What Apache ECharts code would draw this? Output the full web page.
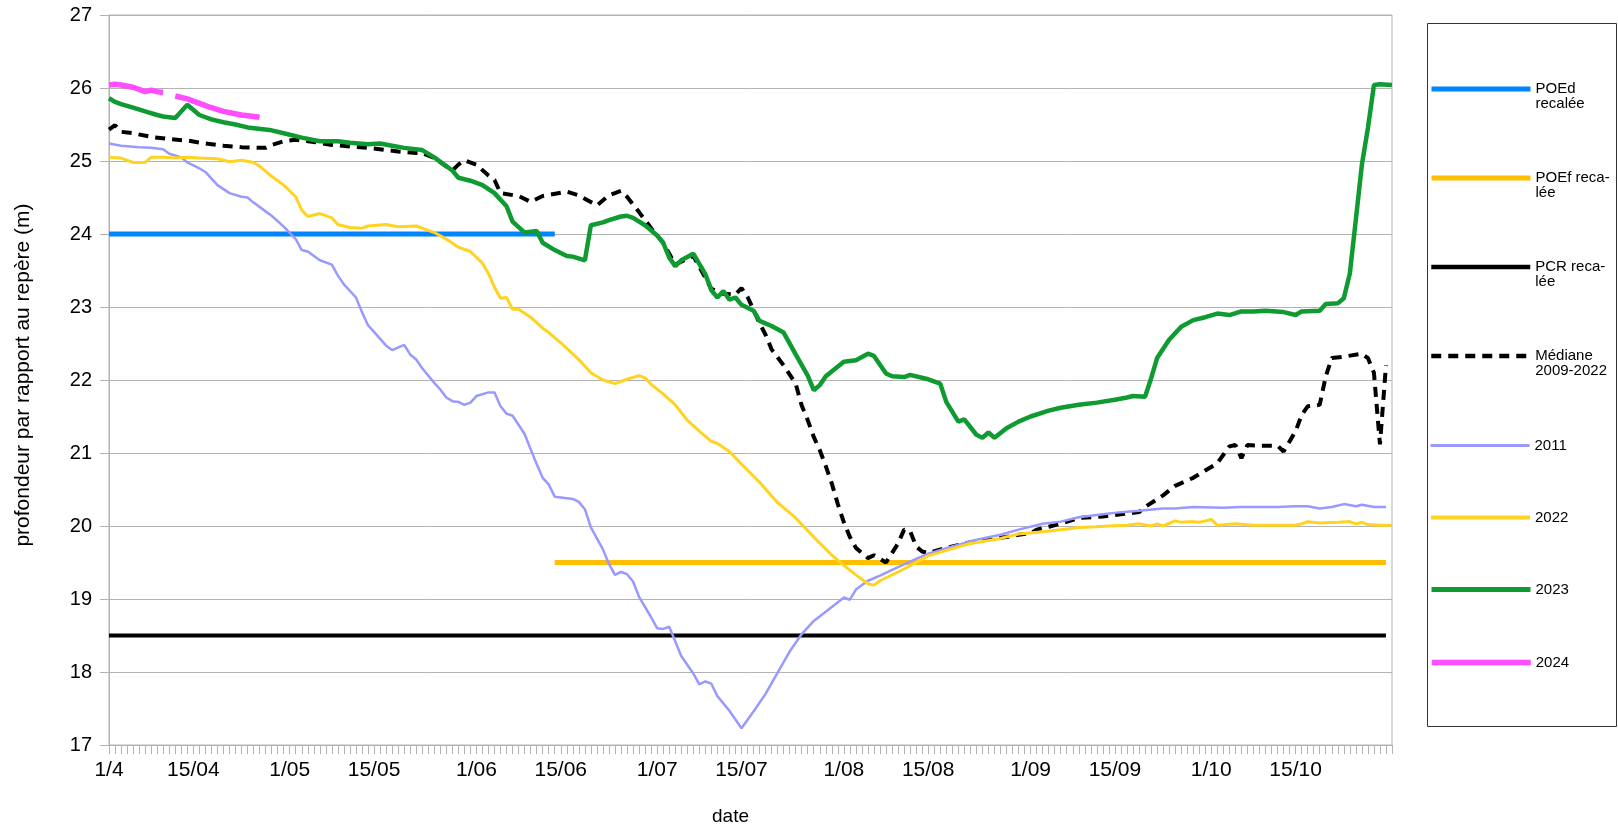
<!DOCTYPE html>
<html>
<head>
<meta charset="utf-8">
<title>profondeur</title>
<script src="https://cdn.jsdelivr.net/npm/echarts/dist/echarts.min.js"></script>
<style>
  html, body { margin: 0; padding: 0; background: #fff; }
  #chart { width: 1618px; height: 826px; }
</style>
</head>
<body>
<div id="chart"></div>
<script>
// jours comptés depuis le 1er avril (0 = 1/4, 213 = 31/10)
var tickDays = [0, 14, 30, 44, 61, 75, 91, 105, 122, 136, 153, 167, 183, 197];
var tickLabels = ['1/4', '15/04', '1/05', '15/05', '1/06', '15/06', '1/07', '15/07', '1/08', '15/08', '1/09', '15/09', '1/10', '15/10'];

var seriesNames = ['POEd recalée', 'POEf recalée', 'PCR recalée', 'Médiane 2009-2022', '2011', '2022', '2023', '2024'];
var legendText = ['POEd\nrecalée', 'POEf reca-\nlée', 'PCR reca-\nlée', 'Médiane\n2009-2022', '2011', '2022', '2023', '2024'];

var poed = [[0, 24], [74, 24]];
var poef = [[74, 19.5], [212, 19.5]];
var pcr = [[0, 18.5], [212, 18.5]];

var mediane = [[0, 25.43], [1, 25.49], [2, 25.40], [4, 25.38], [7, 25.33], [10, 25.30], [13, 25.28], [16, 25.24],
  [19, 25.21], [22, 25.19], [24, 25.18], [26, 25.18], [27, 25.22], [29, 25.27], [31, 25.29], [34, 25.26],
  [37, 25.22], [40, 25.20], [43, 25.18], [46, 25.15], [48, 25.13], [51, 25.11], [52, 25.11], [54, 25.04],
  [57, 24.87], [58, 24.95], [59, 25.01], [61, 24.95], [63, 24.80], [64, 24.74], [65, 24.56], [68, 24.52],
  [70, 24.44], [72, 24.52], [76, 24.58], [78, 24.53], [81, 24.39], [83, 24.53], [85, 24.59], [86, 24.51],
  [88, 24.30], [90, 24.08], [92, 23.88], [94, 23.58], [97, 23.70], [100, 23.25], [102, 23.18], [104, 23.17],
  [105, 23.26], [106, 23.14], [108, 22.78], [109, 22.62], [110, 22.42], [112, 22.20], [114, 21.95], [115, 21.65],
  [116, 21.45], [117, 21.22], [118, 21.04], [119, 20.82], [120, 20.58], [121, 20.30], [122, 20.05], [123, 19.85],
  [124, 19.70], [126, 19.56], [127, 19.60], [129, 19.50], [131, 19.76], [132, 19.95], [133, 19.93], [134, 19.72],
  [135, 19.65], [136, 19.63], [139, 19.70], [142, 19.76], [146, 19.82], [149, 19.85], [151, 19.88], [153, 19.90],
  [154, 19.95], [156, 19.99], [158, 20.03], [161, 20.11], [165, 20.13], [168, 20.16], [171, 20.19], [172, 20.26],
  [175, 20.42], [177, 20.55], [180, 20.66], [182, 20.76], [184, 20.86], [186, 21.09], [187, 21.11], [188, 20.93],
  [189, 21.11], [191, 21.10], [194, 21.10], [195, 21.02], [197, 21.30], [198, 21.52], [199, 21.64], [201, 21.66],
  [202, 22.05], [203, 22.30], [205, 22.32], [208, 22.36], [209, 22.30], [210, 22.10], [211, 21.12], [212, 22.20]];

var y2011 = [[0, 25.24], [2, 25.21], [5, 25.19], [7, 25.18], [9, 25.16], [10, 25.10], [12, 25.05], [13, 24.98],
  [15, 24.90], [16, 24.85], [18, 24.67], [20, 24.56], [22, 24.51], [23, 24.50], [24, 24.43], [26, 24.31],
  [27, 24.25], [29, 24.10], [31, 23.93], [32, 23.78], [33, 23.76], [35, 23.64], [37, 23.58], [38, 23.43],
  [39, 23.31], [41, 23.13], [42, 22.93], [43, 22.75], [44, 22.66], [46, 22.47], [47, 22.41], [49, 22.48],
  [50, 22.35], [51, 22.28], [52, 22.16], [54, 21.96], [55, 21.87], [56, 21.76], [57, 21.71], [58, 21.70],
  [59, 21.66], [60, 21.69], [61, 21.78], [63, 21.83], [64, 21.83], [65, 21.64], [66, 21.54], [67, 21.51],
  [69, 21.26], [70, 21.05], [71, 20.85], [72, 20.66], [73, 20.57], [74, 20.40], [75, 20.39], [77, 20.37],
  [78, 20.33], [79, 20.23], [80, 19.98], [82, 19.68], [83, 19.48], [84, 19.33], [85, 19.37], [86, 19.34],
  [87, 19.24], [88, 19.03], [90, 18.75], [91, 18.60], [92, 18.59], [93, 18.62], [94, 18.42], [95, 18.22],
  [97, 17.98], [98, 17.83], [99, 17.87], [100, 17.84], [101, 17.67], [103, 17.47], [105, 17.23], [107, 17.46],
  [109, 17.70], [111, 17.99], [113, 18.28], [115, 18.52], [117, 18.70], [120, 18.89], [122, 19.02], [123, 18.99],
  [124, 19.13], [126, 19.25], [128, 19.32], [130, 19.40], [134, 19.55], [136, 19.62], [140, 19.72], [143, 19.79],
  [145, 19.83], [148, 19.88], [151, 19.95], [155, 20.03], [158, 20.06], [161, 20.12], [165, 20.16], [168, 20.19],
  [171, 20.21], [175, 20.24], [177, 20.24], [180, 20.26], [185, 20.25], [188, 20.26], [194, 20.26], [197, 20.27],
  [199, 20.27], [201, 20.24], [203, 20.26], [205, 20.30], [207, 20.27], [208, 20.29], [210, 20.26], [212, 20.26]];

var y2022 = [[0, 25.05], [2, 25.04], [4, 24.98], [6, 24.98], [7, 25.05], [9, 25.05], [11, 25.04], [13, 25.05],
  [15, 25.04], [18, 25.03], [20, 24.99], [22, 25.01], [24, 24.98], [25, 24.93], [27, 24.79], [29, 24.67],
  [31, 24.51], [32, 24.33], [33, 24.24], [35, 24.28], [37, 24.22], [38, 24.13], [40, 24.09], [42, 24.08],
  [43, 24.11], [46, 24.13], [48, 24.10], [51, 24.11], [52, 24.08], [54, 24.02], [56, 23.93], [58, 23.82],
  [60, 23.76], [62, 23.60], [63, 23.46], [64, 23.27], [65, 23.12], [66, 23.13], [67, 22.97], [68, 22.97],
  [70, 22.86], [72, 22.71], [73, 22.65], [75, 22.51], [78, 22.28], [80, 22.10], [82, 22.00], [84, 21.95],
  [86, 22.01], [88, 22.06], [89, 22.03], [90, 21.94], [92, 21.81], [94, 21.66], [96, 21.45], [98, 21.30],
  [100, 21.16], [101, 21.13], [103, 21.02], [105, 20.85], [108, 20.60], [111, 20.32], [114, 20.11], [117, 19.85],
  [120, 19.60], [122, 19.46], [124, 19.33], [126, 19.21], [127, 19.19], [128, 19.25], [131, 19.37], [134, 19.50],
  [136, 19.59], [140, 19.69], [143, 19.76], [146, 19.80], [148, 19.83], [151, 19.89], [155, 19.92], [158, 19.95],
  [161, 19.98], [164, 19.99], [166, 20.00], [169, 20.01], [171, 20.03], [173, 20.00], [174, 20.03], [175, 20.00],
  [177, 20.07], [178, 20.05], [180, 20.06], [181, 20.05], [183, 20.09], [184, 20.01], [187, 20.03], [190, 20.01],
  [194, 20.01], [197, 20.01], [198, 20.03], [199, 20.06], [201, 20.04], [204, 20.05], [206, 20.06], [207, 20.03],
  [208, 20.05], [209, 20.02], [211, 20.01], [213, 20.01]];

var y2023 = [[0, 25.86], [1, 25.81], [2, 25.78], [4, 25.73], [6, 25.68], [8, 25.63], [9, 25.61], [11, 25.59],
  [13, 25.77], [15, 25.63], [17, 25.57], [19, 25.53], [21, 25.50], [23, 25.46], [27, 25.42], [29, 25.38],
  [32, 25.32], [35, 25.27], [38, 25.27], [40, 25.25], [43, 25.23], [45, 25.24], [47, 25.21], [49, 25.18],
  [52, 25.15], [54, 25.05], [57, 24.87], [58, 24.77], [60, 24.73], [62, 24.67], [64, 24.56], [66, 24.38],
  [67, 24.17], [69, 24.02], [71, 24.04], [72, 23.88], [74, 23.78], [76, 23.70], [77, 23.69], [79, 23.64],
  [80, 24.12], [82, 24.16], [83, 24.19], [85, 24.24], [86, 24.25], [87, 24.22], [89, 24.12], [91, 23.98],
  [92, 23.88], [93, 23.68], [94, 23.56], [95, 23.64], [97, 23.73], [99, 23.45], [100, 23.23], [101, 23.13],
  [102, 23.22], [103, 23.10], [104, 23.13], [105, 23.03], [107, 22.95], [108, 22.81], [110, 22.74], [112, 22.65],
  [114, 22.35], [116, 22.06], [117, 21.86], [118, 21.93], [119, 22.05], [122, 22.25], [124, 22.27], [126, 22.36],
  [127, 22.33], [129, 22.09], [130, 22.05], [132, 22.04], [133, 22.07], [136, 22.01], [138, 21.95], [139, 21.70],
  [141, 21.43], [142, 21.46], [144, 21.25], [145, 21.21], [146, 21.28], [147, 21.21], [149, 21.34], [151, 21.43],
  [153, 21.50], [156, 21.58], [158, 21.62], [161, 21.66], [164, 21.69], [167, 21.73], [169, 21.76], [170, 21.78],
  [172, 21.77], [173, 22.02], [174, 22.30], [176, 22.55], [178, 22.73], [180, 22.82], [182, 22.86], [184, 22.91],
  [186, 22.89], [188, 22.94], [190, 22.94], [192, 22.95], [195, 22.93], [197, 22.89], [198, 22.94], [201, 22.95],
  [202, 23.04], [204, 23.05], [205, 23.12], [206, 23.46], [207, 24.20], [208, 24.95], [209, 25.45], [210, 26.04],
  [211, 26.05], [213, 26.04]];

var y2024 = [[0, 26.04], [1, 26.05], [2, 26.04], [4, 26.01], [6, 25.95], [7, 25.97], [8, 25.95], [9, 25.94],
  [10, '-'], [11, 25.89], [13, 25.85], [15, 25.79], [17, 25.73], [19, 25.68], [22, 25.63], [25, 25.60]];

var seriesData = [poed, poef, pcr, mediane, y2011, y2022, y2023, y2024];
var colors = ['#0084ff', '#ffbf00', '#000000', '#000000', '#9999ff', '#ffd320', '#0f9b32', '#ff4dff'];
var widths = [5, 5, 4, 4, 2.5, 3, 4.5, 5.5];
var legendWidths = [5, 5, 4.5, 4.5, 3, 4, 5, 5.5];
var legendY = [89, 178, 267, 356, 445, 517, 589, 662];

var font = '"Liberation Sans", Arial, sans-serif';
var gray = '#b3b3b3';
var medianDash = [10, 7];

var chart = echarts.init(document.getElementById('chart'));
chart.setOption({
  animation: false,
  textStyle: { fontFamily: font },
  grid: {
    left: 109, right: 226, top: 15, bottom: 81,
    show: true, borderColor: gray, borderWidth: 1,
    outerBoundsMode: 'none'
  },
  xAxis: {
    type: 'value',
    min: 0, max: 213, interval: 1,
    name: 'date',
    nameLocation: 'middle',
    nameGap: 62,
    nameTextStyle: { fontSize: 19, color: '#000', padding: [0, 40, 0, 0] },
    axisLine: { onZero: false, lineStyle: { color: gray } },
    axisTick: { length: 9, lineStyle: { color: gray } },
    splitLine: { show: false },
    axisLabel: {
      fontSize: 21, color: '#000', margin: 15,
      formatter: function (v) {
        var i = tickDays.indexOf(v);
        return i >= 0 ? tickLabels[i] : '';
      }
    }
  },
  yAxis: {
    type: 'value',
    min: 17, max: 27, interval: 1,
    name: 'profondeur par rapport au repère (m)',
    nameLocation: 'middle',
    nameGap: 75,
    nameTextStyle: { fontSize: 21, color: '#000', padding: [0, 0, 0, 10] },
    axisLine: { show: true, lineStyle: { color: gray } },
    axisTick: { show: true, length: 9, lineStyle: { color: gray } },
    splitLine: { lineStyle: { color: gray } },
    axisLabel: { fontSize: 20, color: '#000', margin: 17 }
  },
  // une légende par série pour reproduire l'espacement irrégulier
  legend: seriesNames.map(function (name, i) {
    var twoLines = legendText[i].indexOf('\n') >= 0;
    return {
      data: [name],
      left: 1429,
      top: legendY[i] - (twoLines ? 22.5 : 7),
      padding: 0,
      itemWidth: 99,
      itemHeight: 14,
      selectedMode: false,
      itemStyle: { opacity: 0 },
      lineStyle: { width: legendWidths[i], type: i === 3 ? medianDash : 'solid' },
      formatter: function () { return (twoLines ? '\n' : '') + legendText[i]; },
      textStyle: { fontSize: 15, lineHeight: 15, color: '#000' }
    };
  }),
  graphic: [{
    type: 'rect',
    shape: { x: 1427.5, y: 23.5, width: 189, height: 703 },
    style: { fill: 'none', stroke: '#333', lineWidth: 1 },
    silent: true
  }],
  series: seriesNames.map(function (name, i) {
    return {
      name: name,
      type: 'line',
      data: seriesData[i],
      symbol: 'none',
      showSymbol: false,
      connectNulls: false,
      silent: true,
      color: colors[i],
      lineStyle: {
        color: colors[i],
        width: widths[i],
        type: i === 3 ? medianDash : 'solid'
      }
    };
  })
});
</script>
</body>
</html>
